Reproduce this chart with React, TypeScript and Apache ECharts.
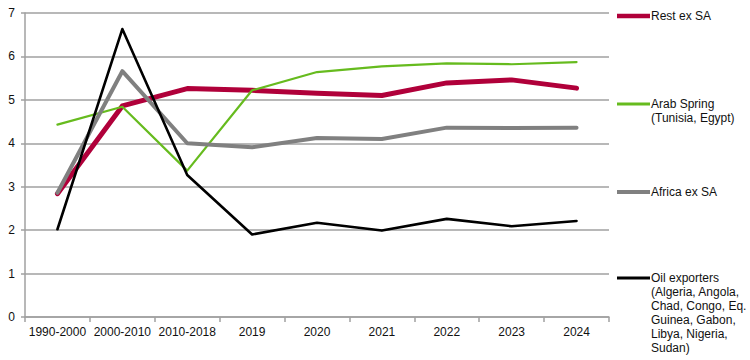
import React, { useEffect, useRef } from "react";
import * as echarts from "echarts";

const categories = ["1990-2000", "2000-2010", "2010-2018", "2019", "2020", "2021", "2022", "2023", "2024"];
const restExSA = [2.84, 4.86, 5.26, 5.22, 5.15, 5.1, 5.39, 5.46, 5.27];
const arabSpring = [4.43, 4.84, 3.37, 5.22, 5.64, 5.77, 5.84, 5.82, 5.87];
const africaExSA = [2.86, 5.66, 4.0, 3.91, 4.12, 4.1, 4.36, 4.35, 4.36];
const oilExporters = [2.02, 6.63, 3.27, 1.9, 2.17, 1.99, 2.26, 2.09, 2.21];
const yTicks = [0, 1, 2, 3, 4, 5, 6, 7];

const seriesNames = [
  "Rest ex SA",
  "Arab Spring\n(Tunisia, Egypt)",
  "Africa ex SA",
  "Oil exporters\n(Algeria, Angola,\nChad, Congo, Eq.\nGuinea, Gabon,\nLibya, Nigeria,\nSudan)",
];
const seriesData = [restExSA, arabSpring, africaExSA, oilExporters];
const colors = ["#b0003a", "#66bb1e", "#808080", "#000000"];
const widths = [5, 2.2, 4, 2.6];
const legendWidths = [4.5, 3, 4, 3];
const legendY = [16, 104, 192, 278];

export default function App() {
  const ref = useRef<HTMLDivElement>(null);
  useEffect(() => {
    document.body.style.margin = "0";
    if (!ref.current) return;
    const chart = echarts.init(ref.current, null, { renderer: "svg" });
    const font = "'Liberation Sans', Arial, sans-serif";
    const graphic: any[] = [];
    seriesNames.forEach((n, i) => {
      graphic.push({
        type: "rect",
        shape: { x: 617, y: legendY[i] - legendWidths[i] / 2, width: 33, height: legendWidths[i] },
        style: { fill: colors[i] },
      });
      graphic.push({
        type: "text",
        x: 651,
        y: legendY[i] - 7,
        style: {
          text: n,
          fill: "#111",
          font: `12px ${font}`,
          lineHeight: 14,
          textVerticalAlign: "top",
        },
      });
    });
    chart.setOption({
      animation: false,
      grid: { left: 25, right: 141, top: 13, bottom: 43, containLabel: false },
      xAxis: {
        type: "category",
        data: categories,
        boundaryGap: true,
        axisLine: { show: true, lineStyle: { color: "#a0a0a0", width: 1.5 } },
        axisTick: { show: true, length: 5, lineStyle: { color: "#a0a0a0", width: 1.5 } },
        axisLabel: { color: "#111", fontFamily: font, fontSize: 12, margin: 9, interval: 0 },
        splitLine: { show: false },
      },
      yAxis: {
        type: "value",
        min: yTicks[0],
        max: yTicks[yTicks.length - 1],
        interval: 1,
        axisLine: { show: true, lineStyle: { color: "#a0a0a0", width: 1.5 } },
        axisTick: { show: true, length: 4, lineStyle: { color: "#a0a0a0", width: 1.5 } },
        axisLabel: { color: "#111", fontFamily: font, fontSize: 12, margin: 10 },
        splitLine: { show: true, lineStyle: { color: "#a0a0a0", width: 1.5 } },
      },
      series: seriesData.map((d, i) => ({
        name: seriesNames[i],
        type: "line",
        data: d,
        symbol: "none",
        lineStyle: { color: colors[i], width: widths[i], join: "round", cap: "round" },
        itemStyle: { color: colors[i] },
        z: 2 + i,
      })),
      graphic,
    });
    return () => chart.dispose();
  }, []);
  return <div ref={ref} style={{ width: 750, height: 360 }} />;
}
